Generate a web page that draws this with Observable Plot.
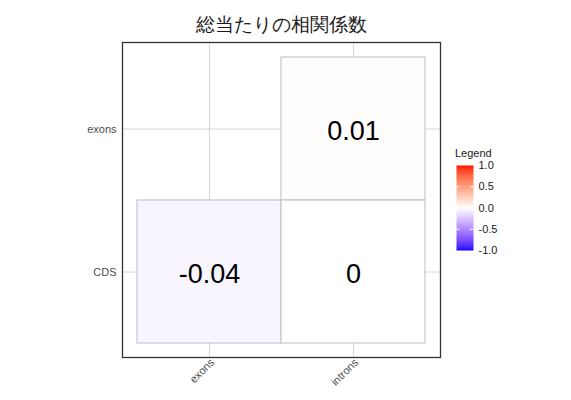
<!DOCTYPE html>
<html>
<head>
<meta charset="utf-8">
<script src="https://cdn.jsdelivr.net/npm/d3@7"></script>
<script src="https://cdn.jsdelivr.net/npm/@observablehq/plot@0.6"></script>
<style>
  html, body { margin: 0; padding: 0; background: #fff; }
  #wrap { position: relative; width: 571px; height: 400px; overflow: hidden; }
  #legend { position: absolute; left: 440px; top: 142px; }
  #legendTitle { position: absolute; left: 455px; top: 147px; font: 11px "Liberation Sans", Arial, sans-serif; color: #1a1a1a; line-height: 12px; }
  svg text { font-family: "Liberation Sans", Arial, sans-serif; }
</style>
</head>
<body>
<div id="wrap"></div>
<script>
const title = "総当たりの相関係数";
const xCats = ["exons", "introns"];
const yCats = ["exons", "CDS"]; // top to bottom
const cellX = ["introns", "exons", "introns"];
const cellY = ["exons", "CDS", "CDS"];
const cellVal = [0.01, -0.04, 0];
const legendTicks = [-1, -0.5, 0, 0.5, 1];
const legendTitle = "Legend";

const cells = cellVal.map((v, i) => ({x: cellX[i], y: cellY[i], v}));
const colorOpts = {type: "linear", domain: [-1, 0, 1], range: ["blue", "white", "red"], interpolate: "lab"};
const sans = "Liberation Sans, Arial, sans-serif";

const main = Plot.plot({
  width: 571, height: 400,
  marginLeft: 122, marginRight: 131, marginTop: 42, marginBottom: 43,
  style: {background: "#fff", fontFamily: sans},
  x: {type: "band", domain: xCats, paddingInner: 0, paddingOuter: 0.1},
  y: {type: "band", domain: yCats, paddingInner: 0, paddingOuter: 0.1},
  color: colorOpts,
  marks: [
    Plot.ruleX(xCats, {x: d => d, stroke: "#cccccc", strokeWidth: 0.8}),
    Plot.ruleY(yCats, {y: d => d, stroke: "#cccccc", strokeWidth: 0.8}),
    Plot.cell(cells, {x: "x", y: "y", fill: "v", stroke: "#bebebe", strokeWidth: 1}),
    Plot.text(cells, {x: "x", y: "y", text: d => String(d.v), fontSize: 27, fill: "black", fontFamily: sans, dy: 2}),
    Plot.frame({stroke: "#333", strokeWidth: 1.3}),
    Plot.axisY({tickSize: 0, tickPadding: 6, fontSize: 11, color: "#4d4d4d", label: null}),
    Plot.axisX({tickSize: 0, tickPadding: 3, tickRotate: -45, fontSize: 11, color: "#4d4d4d", label: null, dx: 3}),
    Plot.text([title], {frameAnchor: "top", dy: -18, lineAnchor: "middle", fontSize: 19, fill: "#1a1a1a", fontFamily: "Noto Sans CJK JP, sans-serif"})
  ]
});
document.getElementById("wrap").appendChild(main);

const leg = Plot.plot({
  width: 100, height: 118,
  marginLeft: 16, marginRight: 67, marginTop: 23, marginBottom: 10,
  style: {background: "transparent", fontFamily: sans},
  x: {domain: [0, 1], axis: null},
  y: {domain: [-1, 1], axis: null},
  color: colorOpts,
  marks: [
    Plot.raster({fill: (x, y) => y, x1: 0, x2: 1, y1: -1, y2: 1, width: 1, height: 200, imageRendering: "auto"}),
    Plot.ruleY(legendTicks.slice(1, -1), {x1: 0, x2: 0.2, stroke: "white", strokeWidth: 1}),
    Plot.ruleY(legendTicks.slice(1, -1), {x1: 0.8, x2: 1, stroke: "white", strokeWidth: 1}),
    Plot.axisY(legendTicks, {anchor: "right", tickSize: 0, tickPadding: 5, tickFormat: d => d.toFixed(1), fontSize: 11, color: "#1a1a1a", label: null})
  ]
});
leg.id = "legend";
document.getElementById("wrap").appendChild(leg);
const lt = document.createElement("div");
lt.id = "legendTitle";
lt.textContent = legendTitle;
document.getElementById("wrap").appendChild(lt);
</script>
</body>
</html>
